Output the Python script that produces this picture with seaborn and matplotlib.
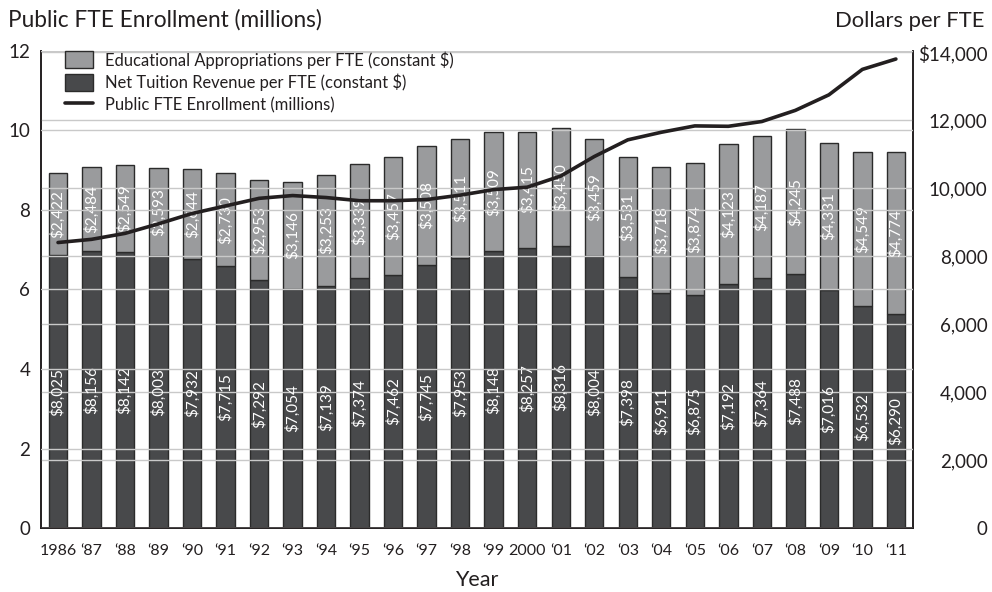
import numpy as np
import pandas as pd
import matplotlib
matplotlib.use("Agg")
import matplotlib.pyplot as plt
import seaborn as sns
from matplotlib.patches import Patch
from matplotlib.lines import Line2D

# ---------------- data ----------------
years = ["1986", "\u201887", "\u201888", "\u201889", "\u201890", "\u201891", "\u201892",
         "\u201893", "\u201894", "\u201895", "\u201896", "\u201897", "\u201898", "\u201899",
         "2000", "\u201801", "\u201802", "\u201803", "\u201804", "\u201805", "\u201806",
         "\u201807", "\u201808", "\u201809", "\u201810", "\u201811"]
net_tuition = [8025, 8156, 8142, 8003, 7932, 7715, 7292, 7054, 7139, 7374, 7462, 7745, 7953,
               8148, 8257, 8316, 8004, 7398, 6911, 6875, 7192, 7364, 7488, 7016, 6532, 6290]
edu_approp = [2422, 2484, 2549, 2593, 2644, 2730, 2953, 3146, 3253, 3339, 3457, 3508, 3511,
              3509, 3415, 3450, 3459, 3531, 3718, 3874, 4123, 4187, 4245, 4331, 4549, 4774]
enrollment = [7.18, 7.26, 7.41, 7.65, 7.91, 8.10, 8.29, 8.36, 8.31, 8.23, 8.23, 8.26, 8.37,
              8.51, 8.57, 8.85, 9.34, 9.76, 9.95, 10.11, 10.10, 10.22, 10.50, 10.89, 11.53, 11.79]
left_ticks = [0, 2, 4, 6, 8, 10, 12]
right_ticks = [0, 2000, 4000, 6000, 8000, 10000, 12000, 14000]
right_tick_labels = ["0", "2,000", "4,000", "6,000", "8,000", "10,000", "12,000", "$14,000"]

df = pd.DataFrame({"year": years, "tuition": net_tuition, "approp": edu_approp,
                   "enroll": enrollment, "pos": np.arange(len(years))})

# ---------------- style ----------------
sns.set_theme(style="white")
FONT = ["Lato", "DejaVu Sans"]
plt.rcParams["font.family"] = FONT
TXT = "#231f20"
LIGHT = "#9a9b9d"
DARK = "#48494b"
EDGE = "#2b2b2b"
GRID = "#c9c9c9"

fig = plt.figure(figsize=(9.92, 5.92), dpi=100)
ax = fig.add_axes([0.0416, 0.1076, 0.8784, 0.8068])
ax2 = ax.twinx()

# bars on right (dollar) axis
sns.barplot(data=df, x="year", y="tuition", order=years, color=DARK, saturation=1,
            width=0.55, edgecolor=EDGE, linewidth=1.0, errorbar=None, ax=ax2)
sns.barplot(data=df, x="year", y="approp", order=years, color=LIGHT, saturation=1,
            width=0.55, edgecolor=EDGE, linewidth=1.0, errorbar=None, ax=ax2,
            bottom=df["tuition"].values)

lbl_kw = dict(label_type="center", rotation=90, color="white", fontsize=11)
ax2.bar_label(ax2.containers[0], labels=[f"${v:,}" for v in net_tuition], **lbl_kw)
ax2.bar_label(ax2.containers[1], labels=[f"${v:,}" for v in edu_approp], **lbl_kw)

ax2.set_ylim(0, 14050)
ax2.set_yticks(right_ticks)
ax2.set_yticklabels(right_tick_labels)
ax2.set_axisbelow(False)
ax2.grid(axis="y", color=GRID, linewidth=1.0, zorder=2.5)
ax2.grid(axis="x", visible=False)
ax2.set_xlabel("")
ax2.set_ylabel("")
ax2.tick_params(axis="y", length=0, pad=54, labelsize=13.5, labelcolor=TXT)
for t in ax2.get_yticklabels():
    t.set_horizontalalignment("right")

# line on left (millions) axis, drawn above the bars
ax.set_zorder(ax2.get_zorder() + 1)
ax.patch.set_visible(False)
sns.lineplot(data=df, x="pos", y="enroll", color=TXT, linewidth=2.6, ax=ax, zorder=5)
ax.set_ylim(0, 12)
ax.set_yticks(left_ticks)
ax.set_xlim(-0.5, len(years) - 0.5)
ax.set_xticks(np.arange(len(years)))
ax.set_xticklabels(years)
ax.set_axisbelow(False)
ax.grid(axis="y", color=GRID, linewidth=1.0, zorder=2.5)
ax.grid(axis="x", visible=False)
ax.tick_params(axis="y", length=0, pad=8, labelsize=13.5, labelcolor=TXT)
ax.tick_params(axis="x", length=0, pad=11, labelsize=11.5, labelcolor=TXT)
ax.set_ylabel("")
ax.set_xlabel("Year", fontsize=15.5, color=TXT, labelpad=9)

for a in (ax, ax2):
    a.spines["top"].set_visible(False)
    for s in ("left", "bottom", "right"):
        a.spines[s].set_color(TXT)
        a.spines[s].set_linewidth(1.2)

# axis titles
fig.text(0.008, 0.955, "Public FTE Enrollment (millions)", fontsize=16.3, color=TXT,
         ha="left", va="baseline")
fig.text(0.992, 0.955, "Dollars per FTE", fontsize=15.8, color=TXT, ha="right", va="baseline")

# legend
handles = [Patch(facecolor=LIGHT, edgecolor=EDGE, linewidth=1.0),
           Patch(facecolor=DARK, edgecolor=EDGE, linewidth=1.0),
           Line2D([0], [0], color=TXT, linewidth=2.6)]
labels = ["Educational Appropriations per FTE (constant $)",
          "Net Tuition Revenue per FTE (constant $)",
          "Public FTE Enrollment (millions)"]
leg = ax.legend(handles, labels, loc="upper left", bbox_to_anchor=(0.016, 1.02),
                frameon=False, fontsize=11.9, handlelength=1.7, handleheight=1.2,
                labelspacing=0.3, handletextpad=0.7, borderaxespad=0.2)
for t in leg.get_texts():
    t.set_color(TXT)

fig.savefig("out.png", dpi=100)
